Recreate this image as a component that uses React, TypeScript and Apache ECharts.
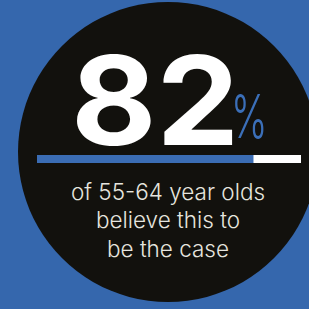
import React, { useEffect, useRef } from "react";
import * as echarts from "echarts";

const categories = ["55-64 year olds"];
const values = [82];
const maxValue = 100;
const captionLines = ["of 55-64 year olds", "believe this to", "be the case"];
const unit = "%";

export default function App() {
  const ref = useRef<HTMLDivElement>(null);
  useEffect(() => {
    if (!ref.current) return;
    const chart = echarts.init(ref.current, null, { renderer: "svg" });
    const textFill = "#e6e5df";
    chart.setOption({
      animation: false,
      backgroundColor: "#3567ad",
      grid: { left: 37, top: 155, width: 264, height: 8, containLabel: false },
      xAxis: { type: "value", min: 0, max: maxValue, show: false },
      yAxis: { type: "category", data: categories, show: false },
      series: [
        {
          type: "bar",
          data: values,
          barWidth: 8,
          itemStyle: { color: "#3b6db4" },
          showBackground: true,
          backgroundStyle: { color: "#ffffff" },
          z: 3,
        },
      ],
      graphic: [
        {
          type: "circle",
          z: 0,
          shape: { cx: 168, cy: 152, r: 150 },
          style: { fill: "#12110d" },
        },
        {
          type: "text",
          z: 5,
          x: 71,
          y: 100,
          scaleX: 1.06,
          style: {
            text: String(values[0]),
            x: 0,
            y: 0,
            font: "700 124px Inter",
            fill: "#ffffff",
            align: "left",
            verticalAlign: "middle",
          },
        },
        {
          type: "text",
          z: 5,
          x: 231,
          y: 116,
          scaleX: 0.65,
          style: {
            text: unit,
            x: 0,
            y: 0,
            font: "300 60px Inter",
            fill: "#3b6fb8",
            align: "left",
            verticalAlign: "middle",
          },
        },
        ...captionLines.map((line, i) => ({
          type: "text",
          z: 5,
          x: 168,
          y: 191 + i * 28.5,
          style: {
            text: line,
            font: "300 22.5px Inter",
            fill: textFill,
            align: "center",
            verticalAlign: "middle",
          },
        })),
      ],
    });
    return () => chart.dispose();
  }, []);
  return (
    <div
      ref={ref}
      style={{ position: "fixed", left: 0, top: 0, width: 309, height: 309 }}
    />
  );
}
